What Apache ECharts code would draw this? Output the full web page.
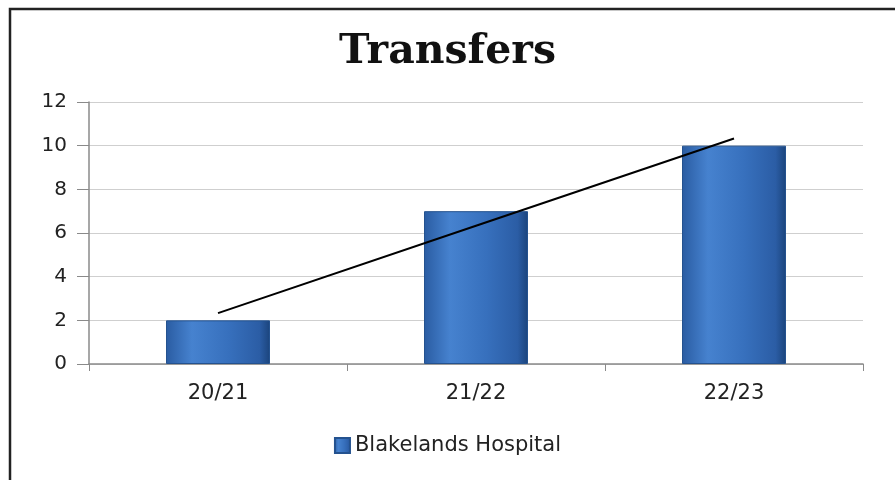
<!DOCTYPE html>
<html>
<head>
<meta charset="utf-8">
<script src="https://cdn.jsdelivr.net/npm/echarts@6/dist/echarts.min.js"></script>
<style>
  html, body { margin: 0; padding: 0; background: #ffffff; }
  #chart { width: 895px; height: 480px; }
</style>
</head>
<body>
<div id="chart"></div>
<script>
// Yearly transfers with a linear trendline
const years = ['20/21', '21/22', '22/23'];
const transfers = [2, 7, 10];
const trendline = [2.33, 6.33, 10.33];
const seriesName = 'Blakelands Hospital';
const chartTitle = 'Transfers';

const barFill = new echarts.graphic.LinearGradient(0, 0, 1, 0, [
  { offset: 0, color: '#2a5ca2' },
  { offset: 0.25, color: '#4682cf' },
  { offset: 0.6, color: '#3770bd' },
  { offset: 0.9, color: '#2b5da5' },
  { offset: 1, color: '#1b447c' }
]);

const chart = echarts.init(document.getElementById('chart'), null, { renderer: 'canvas' });
chart.setOption({
  backgroundColor: '#ffffff',
  animation: false,
  graphic: [{
    type: 'rect',
    shape: { x: 10, y: 9, width: 900, height: 500 },
    style: { fill: 'none', stroke: '#222222', lineWidth: 2.5 },
    z: 100
  }],
  title: {
    text: chartTitle,
    left: 'center',
    top: 27,
    textStyle: {
      fontFamily: 'DejaVu Serif',
      fontWeight: 'bold',
      fontSize: 41,
      color: '#111111'
    }
  },
  legend: {
    bottom: 19,
    left: 'center',
    itemWidth: 15,
    itemHeight: 15,
    itemGap: 10,
    data: [{ name: seriesName, icon: 'rect' }],
    textStyle: { fontFamily: 'DejaVu Sans', fontSize: 21, color: '#222222' }
  },
  grid: { left: 89, right: 32, top: 102, bottom: 116, containLabel: false },
  xAxis: {
    type: 'category',
    data: years,
    boundaryGap: true,
    axisLine: { lineStyle: { color: '#8a8a8a', width: 1.5 } },
    axisTick: { show: true, length: 7, lineStyle: { color: '#8a8a8a' } },
    axisLabel: { margin: 19, fontFamily: 'DejaVu Sans', fontSize: 21, color: '#222222' }
  },
  yAxis: {
    type: 'value',
    min: 0,
    max: 12,
    interval: 2,
    axisLine: { show: true, lineStyle: { color: '#8a8a8a', width: 1.5 } },
    axisTick: { show: true, length: 12, lineStyle: { color: '#8a8a8a' } },
    axisLabel: { margin: 22, fontFamily: 'DejaVu Sans', fontSize: 20, color: '#222222' },
    splitLine: { lineStyle: { color: '#cfcfcf', width: 1 } }
  },
  series: [
    {
      name: seriesName,
      type: 'bar',
      data: transfers,
      barWidth: 104,
      itemStyle: { color: barFill, borderColor: '#24528f', borderWidth: 1 },
      z: 2
    },
    {
      name: 'Trend',
      type: 'line',
      data: trendline,
      symbol: 'none',
      lineStyle: { color: '#000000', width: 2 },
      z: 5
    }
  ]
});
</script>
</body>
</html>
